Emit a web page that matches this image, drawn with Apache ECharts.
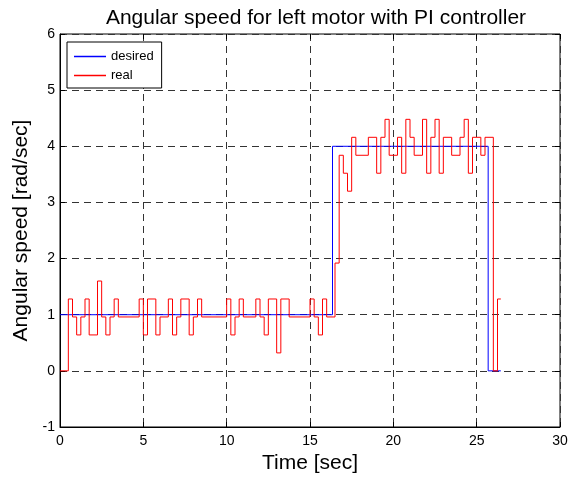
<!DOCTYPE html>
<html>
<head>
<meta charset="utf-8">
<script src="https://cdn.jsdelivr.net/npm/echarts@6/dist/echarts.min.js"></script>
<style>html,body{margin:0;padding:0;background:#fff;}#c{width:585px;height:481px;}</style>
</head>
<body>
<div id="c"></div>
<script>
// desired speed: step times [sec] and values [rad/sec]
var desiredT = [0, 16.35, 25.69, 26.45];
var desiredV = [1, 4, 0, 0];
// measured (real) speed: step times [sec] and values [rad/sec]
var realT = [0, 0.5, 0.75, 1.0, 1.25, 1.5, 1.75, 2.25, 2.5, 2.75, 3.0, 3.25, 3.5, 4.75, 5.0, 5.25, 5.75, 6.0, 6.5, 6.75, 7.0, 7.25, 7.75, 8.0, 8.25, 8.5, 10.0, 10.25, 10.5, 10.75, 11.0, 11.75, 12.0, 12.25, 12.5, 13.0, 13.25, 13.75, 15.0, 15.25, 15.5, 15.75, 16.0, 16.5, 16.75, 17.0, 17.25, 17.5, 17.75, 18.5, 19.0, 19.25, 19.5, 19.75, 20.25, 20.5, 20.75, 21.0, 21.25, 21.75, 22.0, 22.25, 22.5, 22.75, 23.0, 23.5, 24.0, 24.25, 24.5, 24.75, 25.25, 25.5, 26.0, 26.25, 26.45];
var realV = [0, 1.28, 0.96, 0.64, 0.96, 1.28, 0.64, 1.6, 0.96, 0.64, 0.96, 1.28, 0.96, 1.28, 0.64, 1.28, 0.64, 0.96, 1.28, 0.64, 0.96, 1.28, 0.64, 0.96, 1.28, 0.96, 1.28, 0.64, 0.96, 1.28, 0.96, 1.28, 0.96, 0.64, 1.28, 0.32, 1.28, 0.96, 1.28, 0.96, 0.64, 1.28, 0.96, 1.92, 3.84, 3.52, 3.2, 4.16, 3.84, 4.16, 3.52, 4.16, 4.48, 3.84, 4.16, 3.52, 4.48, 4.16, 3.84, 4.48, 3.52, 4.16, 4.48, 3.52, 4.16, 3.84, 4.16, 4.48, 3.52, 4.16, 3.84, 4.16, 0, 1.28, 1.28];
var xTicks = [0, 5, 10, 15, 20, 25, 30];
var yTicks = [-1, 0, 1, 2, 3, 4, 5, 6];
var titleText = 'Angular speed for left motor with PI controller';
var xLabel = 'Time [sec]';
var yLabel = 'Angular speed [rad/sec]';
var seriesNames = ['desired', 'real'];

function zip(t, v) { return t.map(function (x, i) { return [x, v[i]]; }); }

var FONT = '"Liberation Sans", Arial, sans-serif';
var chart = echarts.init(document.getElementById('c'), null, {renderer: 'canvas'});
var dash = {type: [7, 5], color: '#333', width: 1};
chart.setOption({
  animation: false,
  backgroundColor: '#fff',
  title: {
    text: titleText, left: 311, top: 3, textAlign: 'center',
    textStyle: {fontFamily: FONT, fontSize: 21, fontWeight: 'normal', color: '#000'}
  },
  legend: {
    show: true,
    left: 67, top: 42, orient: 'vertical',
    backgroundColor: '#fff', borderColor: '#000', borderWidth: 1,
    padding: [8, 8, 6, 7], itemGap: 6, itemWidth: 32, itemHeight: 1.5,
    icon: 'rect',
    textStyle: {fontFamily: FONT, fontSize: 13, color: '#000'},
    data: seriesNames
  },
  grid: {left: 60, top: 34, width: 500, height: 393, show: true, borderColor: '#000', borderWidth: 1, backgroundColor: '#fff'},
  xAxis: [{
    type: 'value', min: 0, max: 30, interval: 5,
    name: xLabel, nameLocation: 'middle', nameGap: 26,
    nameTextStyle: {fontFamily: FONT, fontSize: 21, color: '#000'},
    axisLine: {onZero: false, lineStyle: {color: '#000'}},
    axisTick: {inside: true, length: 5, lineStyle: {color: '#000'}},
    axisLabel: {fontFamily: FONT, fontSize: 14, color: '#000', margin: 7,
      formatter: function (v) { return xTicks.indexOf(v) >= 0 ? String(v) : ''; }},
    splitLine: {show: true, lineStyle: dash}
  }, {
    type: 'value', min: 0, max: 30, interval: 5, position: 'top',
    axisLine: {show: false, onZero: false}, axisTick: {inside: true, length: 5, lineStyle: {color: '#000'}},
    axisLabel: {show: false}, splitLine: {show: false}
  }],
  yAxis: [{
    type: 'value', min: -1, max: 6, interval: 1,
    name: yLabel, nameLocation: 'middle', nameGap: 28, nameRotate: 90,
    nameTextStyle: {fontFamily: FONT, fontSize: 21, color: '#000'},
    axisLine: {show: true, onZero: false, lineStyle: {color: '#000'}},
    axisTick: {show: true, inside: true, length: 5, lineStyle: {color: '#000'}},
    axisLabel: {fontFamily: FONT, fontSize: 14, color: '#000', margin: 5,
      formatter: function (v) { return yTicks.indexOf(v) >= 0 ? String(v) : ''; }},
    splitLine: {show: true, lineStyle: dash}
  }, {
    type: 'value', min: -1, max: 6, interval: 1, position: 'right',
    axisLine: {show: false, onZero: false}, axisTick: {show: true, inside: true, length: 5, lineStyle: {color: '#000'}},
    axisLabel: {show: false}, splitLine: {show: false}
  }],
  series: [{
    name: seriesNames[0], type: 'line', step: 'end', showSymbol: false, symbol: 'none',
    lineStyle: {color: '#0000ff', width: 1}, itemStyle: {color: '#0000ff'}, color: '#0000ff',
    data: zip(desiredT, desiredV), z: 3
  }, {
    name: seriesNames[1], type: 'line', step: 'end', showSymbol: false, symbol: 'none',
    lineStyle: {color: '#ff0000', width: 1}, itemStyle: {color: '#ff0000'}, color: '#ff0000',
    data: zip(realT, realV), z: 4
  }]
});
</script>
</body>
</html>
